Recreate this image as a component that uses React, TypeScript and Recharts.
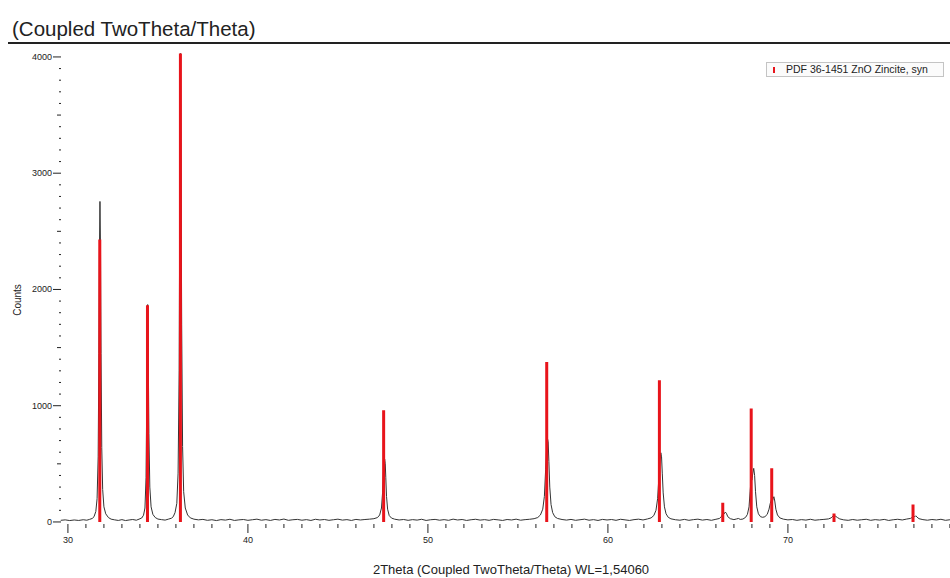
import React from 'react';
import { ComposedChart, Line, XAxis, YAxis } from 'recharts';

// measured scan: [2theta, counts]
const scanPoints: [number, number][] = [
  [29.6, 14], [29.85, 18], [30.1, 12], [30.35, 17], [30.6, 13], [30.85, 19], [31.05, 15], [31.2, 22],
  [31.35, 30], [31.45, 45], [31.55, 90], [31.62, 200], [31.68, 560], [31.72, 1450], [31.75, 2300], [31.78, 2757],
  [31.81, 2350], [31.84, 1450], [31.88, 640], [31.93, 280], [32.0, 130], [32.1, 70], [32.25, 38], [32.4, 24],
  [32.6, 18], [32.8, 13], [33.0, 20], [33.2, 12], [33.4, 17], [33.6, 21], [33.8, 15], [33.95, 24],
  [34.1, 34], [34.2, 58], [34.28, 120], [34.34, 380], [34.38, 1050], [34.41, 1720], [34.43, 1870], [34.46, 1500],
  [34.5, 760], [34.55, 300], [34.62, 130], [34.72, 65], [34.85, 38], [35.0, 25],
  [35.2, 20], [35.4, 16], [35.6, 25], [35.75, 32],
  [35.85, 45], [35.95, 80], [36.05, 160], [36.12, 420], [36.18, 1300], [36.22, 3000], [36.25, 4030], [36.28, 3300],
  [36.32, 1700], [36.37, 650], [36.43, 260], [36.52, 120], [36.65, 60], [36.8, 35], [37.0, 24],
  [37.25, 18], [37.5, 22], [37.75, 14], [38.0, 19], [38.25, 12], [38.5, 20], [38.75, 16], [39.0, 23],
  [39.25, 13], [39.5, 18], [39.75, 21], [40.0, 14], [40.25, 19], [40.5, 24], [40.75, 15], [41.0, 20],
  [41.25, 13], [41.5, 22], [41.75, 17], [42.0, 25], [42.25, 14], [42.5, 19], [42.75, 22], [43.0, 15],
  [43.25, 20], [43.5, 13], [43.75, 23], [44.0, 17], [44.25, 21], [44.5, 14], [44.75, 19], [45.0, 24],
  [45.25, 16], [45.5, 20], [45.75, 13], [46.0, 22], [46.25, 17], [46.5, 21], [46.75, 24], [47.0, 28],
  [47.2, 38], [47.32, 60], [47.42, 120], [47.48, 250], [47.53, 430], [47.57, 525], [47.6, 540], [47.63, 500],
  [47.66, 380], [47.7, 220], [47.76, 110], [47.85, 55], [47.98, 33], [48.15, 24],
  [48.4, 17], [48.65, 21], [48.9, 14], [49.15, 20], [49.4, 16], [49.65, 23], [49.9, 13], [50.15, 19],
  [50.4, 22], [50.65, 15], [50.9, 20], [51.15, 14], [51.4, 24], [51.65, 17], [51.9, 21], [52.15, 13],
  [52.4, 19], [52.65, 23], [52.9, 16], [53.15, 20], [53.4, 14], [53.65, 22], [53.9, 18], [54.15, 13],
  [54.4, 21], [54.65, 17], [54.9, 24], [55.15, 15], [55.4, 20], [55.65, 23], [55.9, 28], [56.1, 38],
  [56.25, 60], [56.38, 110], [56.47, 220], [56.54, 450], [56.6, 650], [56.64, 720], [56.68, 690], [56.72, 520],
  [56.77, 300], [56.84, 150], [56.93, 80], [57.05, 45], [57.2, 30],
  [57.45, 21], [57.7, 16], [57.95, 22], [58.2, 14], [58.45, 19], [58.7, 24], [58.95, 15], [59.2, 20],
  [59.45, 13], [59.7, 22], [59.95, 17], [60.2, 21], [60.45, 14], [60.7, 23], [60.95, 18], [61.2, 13],
  [61.45, 20], [61.7, 24], [61.95, 17], [62.2, 26], [62.4, 35],
  [62.55, 55], [62.67, 100], [62.76, 200], [62.83, 380], [62.89, 540], [62.94, 595], [62.98, 560], [63.02, 420],
  [63.07, 250], [63.14, 130], [63.23, 70], [63.35, 40], [63.5, 27],
  [63.75, 19], [64.0, 15], [64.25, 22], [64.5, 14], [64.75, 20], [65.0, 24], [65.25, 16], [65.5, 21],
  [65.75, 14], [66.0, 23], [66.2, 30],
  [66.32, 50], [66.4, 80], [66.46, 70], [66.52, 85], [66.58, 75], [66.66, 45], [66.8, 28],
  [67.0, 20], [67.15, 26], [67.25, 30], [67.35, 22], [67.5, 25], [67.65, 40],
  [67.75, 65], [67.84, 130], [67.9, 260], [67.96, 380], [68.0, 360], [68.05, 420], [68.1, 461], [68.15, 400],
  [68.2, 260], [68.27, 130], [68.36, 70], [68.48, 45], [68.6, 40],
  [68.72, 45], [68.85, 65], [68.95, 110], [69.02, 160], [69.08, 190], [69.13, 175], [69.18, 200], [69.22, 217],
  [69.27, 180], [69.33, 110], [69.42, 60], [69.55, 35], [69.75, 24],
  [70.0, 18], [70.25, 21], [70.5, 14], [70.75, 20], [71.0, 16], [71.25, 23], [71.5, 15], [71.75, 19],
  [72.0, 22], [72.25, 26],
  [72.4, 35], [72.5, 50], [72.58, 56], [72.66, 48], [72.75, 38], [72.88, 26],
  [73.1, 18], [73.35, 14], [73.6, 21], [73.85, 15], [74.1, 19], [74.35, 23], [74.6, 14], [74.85, 20],
  [75.1, 16], [75.35, 22], [75.6, 13], [75.85, 19], [76.1, 23], [76.35, 17], [76.6, 25], [76.8, 30],
  [76.9, 38], [76.98, 48], [77.05, 45], [77.1, 53], [77.17, 42], [77.28, 28],
  [77.5, 20], [77.75, 15], [78.0, 21], [78.25, 17], [78.5, 23], [78.75, 14], [79.0, 19], [79.25, 22], [79.55, 16],
];

// PDF 36-1451 ZnO Zincite reference lines
const refAngles = [31.77, 34.42, 36.25, 47.54, 56.6, 62.86, 66.38, 67.96, 69.1, 72.56, 76.95];
const refCounts = [2430, 1865, 4030, 960, 1375, 1220, 165, 975, 462, 72, 150];

const xTickLabels = [30, 40, 50, 60, 70];
const yTickLabels = [0, 1000, 2000, 3000, 4000];
const xMinorTicks = Array.from({ length: 50 }, (_, i) => 30 + i);
const yMinorTicks = Array.from({ length: 41 }, (_, i) => i * 100);

const scanData = scanPoints.map(([angle, counts]) => ({ angle, counts }));
const stickData = refAngles.flatMap((a, i) => [
  { angle: a, counts: 0 },
  { angle: a, counts: refCounts[i] },
  { angle: a, counts: null },
]);

const FONT = '"Liberation Sans", Arial, sans-serif';

const XTick = (props: any) => {
  const { x, y, payload } = props;
  const v = payload.value;
  const major = xTickLabels.includes(v);
  return (
    <g>
      <line x1={x} x2={x} y1={y + 1} y2={y + (major ? 10 : 5)} stroke="#222" strokeWidth={1} />
      {major && (
        <text x={x} y={y + 20} textAnchor="middle" fontSize={9} fontFamily={FONT} fill="#222">
          {v}
        </text>
      )}
    </g>
  );
};

const YTick = (props: any) => {
  const { x, y, payload } = props;
  const v = payload.value;
  const major = yTickLabels.includes(v);
  const len = major ? 8 : v % 500 === 0 ? 4 : 2;
  return (
    <g>
      <line x1={x - len + 1} x2={x + 1} y1={y} y2={y} stroke="#222" strokeWidth={1} />
      {major && (
        <text x={x - 8} y={y + 3} textAnchor="end" fontSize={9} fontFamily={FONT} fill="#222">
          {v}
        </text>
      )}
    </g>
  );
};

export default function App() {
  return (
    <div
      style={{
        position: 'absolute',
        left: 0,
        top: 0,
        width: 950,
        height: 578,
        overflow: 'hidden',
        background: '#fff',
        fontFamily: FONT,
      }}
    >
      <div style={{ position: 'absolute', left: 12, top: 17, fontSize: 20.5, color: '#222', whiteSpace: 'nowrap' }}>
        (Coupled TwoTheta/Theta)
      </div>
      <div style={{ position: 'absolute', left: 8, top: 42, width: 950, height: 2, background: '#222' }} />
      <div style={{ position: 'absolute', left: 0, top: 0 }}>
        <ComposedChart width={960} height={578} margin={{ top: 53, right: 0, bottom: 0, left: 0 }}>
          <XAxis
            type="number"
            dataKey="angle"
            domain={[29.56, 79.56]}
            ticks={xMinorTicks}
            interval={0}
            allowDataOverflow
            axisLine={false}
            tickLine={false}
            tickSize={0}
            tickMargin={0}
            tick={<XTick />}
            height={55}
          />
          <YAxis
            type="number"
            domain={[-9, 4034]}
            ticks={yMinorTicks}
            interval={0}
            allowDataOverflow
            axisLine={false}
            tickLine={false}
            tickSize={0}
            tickMargin={0}
            tick={<YTick />}
            width={60}
          />
          <Line
            data={scanData}
            dataKey="counts"
            type="linear"
            stroke="#333"
            strokeWidth={1}
            dot={false}
            isAnimationActive={false}
          />
          <Line
            data={stickData}
            dataKey="counts"
            type="linear"
            stroke="#e8141b"
            strokeWidth={3}
            dot={false}
            connectNulls={false}
            isAnimationActive={false}
          />
        </ComposedChart>
      </div>
      <div
        style={{
          position: 'absolute',
          left: 9,
          top: 300,
          transform: 'translate(-50%, -50%) rotate(-90deg)',
          transformOrigin: 'center',
          fontSize: 10,
          color: '#222',
          whiteSpace: 'nowrap',
          marginLeft: 8,
        }}
      >
        Counts
      </div>
      <div
        style={{
          position: 'absolute',
          left: 511,
          top: 563,
          transform: 'translateX(-50%)',
          fontSize: 13,
          color: '#222',
          whiteSpace: 'nowrap',
          lineHeight: '14px',
        }}
      >
        2Theta (Coupled TwoTheta/Theta) WL=1,54060
      </div>
      <div
        style={{
          position: 'absolute',
          left: 766,
          top: 62,
          width: 178,
          height: 15,
          border: '1px solid #c4c4c4',
          background: '#fbfbfb',
          boxSizing: 'border-box',
        }}
      >
        <div style={{ position: 'absolute', left: 6, top: 4, width: 2, height: 6, background: '#e8141b' }} />
        <div
          style={{
            position: 'absolute',
            left: 19,
            top: 0,
            fontSize: 10.5,
            lineHeight: '13px',
            color: '#222',
            whiteSpace: 'nowrap',
          }}
        >
          PDF 36-1451 ZnO Zincite, syn
        </div>
      </div>
    </div>
  );
}
